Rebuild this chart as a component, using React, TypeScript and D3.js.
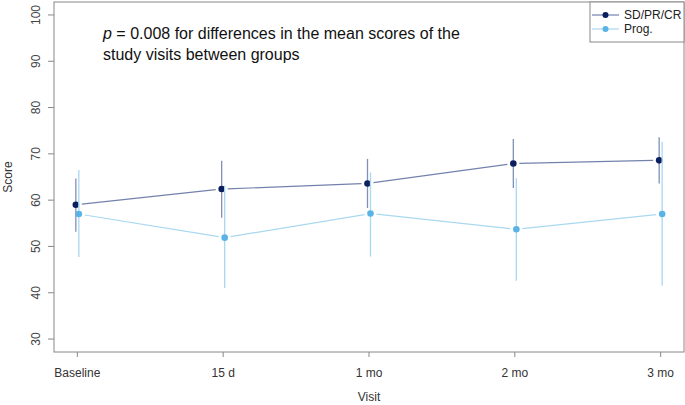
import { useEffect, useRef } from 'react';
import * as d3 from 'd3';

const visits = ['Baseline', '15 d', '1 mo', '2 mo', '3 mo'];
const yTicks = [30, 40, 50, 60, 70, 80, 90, 100];

// SD/PR/CR group
const goodMean = [59.0, 62.4, 63.6, 67.9, 68.6];
const goodLow = [53.2, 56.2, 58.3, 62.6, 63.6];
const goodHigh = [64.7, 68.5, 68.9, 73.2, 73.6];

// Prog. group
const progMean = [57.0, 51.9, 57.1, 53.7, 57.0];
const progLow = [47.7, 41.0, 47.8, 42.6, 41.5];
const progHigh = [66.5, 63.1, 66.0, 64.8, 72.6];

export default function App() {
  const ref = useRef<SVGSVGElement | null>(null);

  useEffect(() => {
    document.body.style.margin = '0';
    if (!ref.current) return;
    const svg = d3.select(ref.current);
    svg.selectAll('*').remove();

    const W = 685;
    const H = 405;
    const box = { left: 54, right: 684, top: 2, bottom: 352 };
    const font = 'Liberation Sans, Arial, sans-serif';

    const x = d3.scaleLinear().domain([0.84, 5.16]).range([box.left, box.right]);
    const y = d3.scaleLinear().domain([27.2, 102.8]).range([box.bottom, box.top]);

    svg.attr('width', W).attr('height', H);

    // plot box
    svg.append('rect')
      .attr('x', box.left).attr('y', box.top)
      .attr('width', box.right - box.left).attr('height', box.bottom - box.top)
      .attr('fill', 'none').attr('stroke', '#888').attr('stroke-width', 1);

    // y axis
    const yAxis = svg.append('g');
    yTicks.forEach(t => {
      yAxis.append('line')
        .attr('x1', box.left - 6).attr('x2', box.left)
        .attr('y1', y(t)).attr('y2', y(t))
        .attr('stroke', '#888');
      yAxis.append('text')
        .attr('transform', `translate(${box.left - 14},${y(t)}) rotate(-90)`)
        .attr('text-anchor', 'middle')
        .attr('font-family', font).attr('font-size', 12).attr('fill', '#444')
        .text(t);
    });
    svg.append('text')
      .attr('transform', `translate(12,${(box.top + box.bottom) / 2}) rotate(-90)`)
      .attr('text-anchor', 'middle')
      .attr('font-family', font).attr('font-size', 12).attr('fill', '#333')
      .text('Score');

    // x axis
    visits.forEach((v, i) => {
      svg.append('line')
        .attr('x1', x(i + 1)).attr('x2', x(i + 1))
        .attr('y1', box.bottom).attr('y2', box.bottom + 5)
        .attr('stroke', '#888');
      svg.append('text')
        .attr('x', x(i + 1)).attr('y', 377)
        .attr('text-anchor', 'middle')
        .attr('font-family', font).attr('font-size', 12).attr('fill', '#333')
        .text(v);
    });
    svg.append('text')
      .attr('x', (box.left + box.right) / 2).attr('y', 401)
      .attr('text-anchor', 'middle')
      .attr('font-family', font).attr('font-size', 12).attr('fill', '#333')
      .text('Visit');

    const series = [
      { mean: goodMean, low: goodLow, high: goodHigh, dx: -1.5, point: '#0b1f5e', line: '#7382ad', bar: '#8190b8' },
      { mean: progMean, low: progLow, high: progHigh, dx: 1.5, point: '#5ab3e6', line: '#a9d8f1', bar: '#a9d8f1' }
    ];

    const gap = 6;
    series.forEach(s => {
      // error bars
      s.mean.forEach((m, i) => {
        svg.append('line')
          .attr('x1', x(i + 1) + s.dx).attr('x2', x(i + 1) + s.dx)
          .attr('y1', y(s.low[i])).attr('y2', y(s.high[i]))
          .attr('stroke', s.bar).attr('stroke-width', 1.3);
      });
      // connecting segments with gaps around points
      for (let i = 0; i < s.mean.length - 1; i++) {
        const x0 = x(i + 1) + s.dx, y0 = y(s.mean[i]);
        const x1 = x(i + 2) + s.dx, y1 = y(s.mean[i + 1]);
        const len = Math.hypot(x1 - x0, y1 - y0);
        const ux = (x1 - x0) / len, uy = (y1 - y0) / len;
        svg.append('line')
          .attr('x1', x0 + ux * gap).attr('y1', y0 + uy * gap)
          .attr('x2', x1 - ux * gap).attr('y2', y1 - uy * gap)
          .attr('stroke', s.line).attr('stroke-width', 1.2);
      }
      // points
      s.mean.forEach((m, i) => {
        svg.append('circle')
          .attr('cx', x(i + 1) + s.dx).attr('cy', y(m))
          .attr('r', 3.3).attr('fill', s.point);
      });
    });

    // annotation
    const note = svg.append('text')
      .attr('font-family', font).attr('font-size', 16).attr('fill', '#111');
    const l1 = note.append('tspan').attr('x', 103).attr('y', 39);
    l1.append('tspan').attr('font-style', 'italic').text('p');
    l1.append('tspan').text(' = 0.008 for differences in the mean scores of the');
    note.append('tspan').attr('x', 103).attr('y', 60).text('study visits between groups');

    // legend
    const lg = svg.append('g');
    lg.append('rect')
      .attr('x', 590).attr('y', box.top).attr('width', box.right - 590).attr('height', 40)
      .attr('fill', 'white').attr('stroke', '#888');
    const items = [
      { label: 'SD/PR/CR', s: series[0] },
      { label: 'Prog.', s: series[1] }
    ];
    items.forEach((it, i) => {
      const cy = 15 + i * 14;
      lg.append('line')
        .attr('x1', 592).attr('x2', 619).attr('y1', cy).attr('y2', cy)
        .attr('stroke', it.s.line).attr('stroke-width', 1.2);
      lg.append('circle').attr('cx', 605.5).attr('cy', cy).attr('r', 3).attr('fill', it.s.point);
      lg.append('text')
        .attr('x', 624).attr('y', cy + 4)
        .attr('font-family', font).attr('font-size', 12).attr('fill', '#222')
        .text(it.label);
    });
  }, []);

  return <svg ref={ref} style={{ display: 'block' }} />;
}
